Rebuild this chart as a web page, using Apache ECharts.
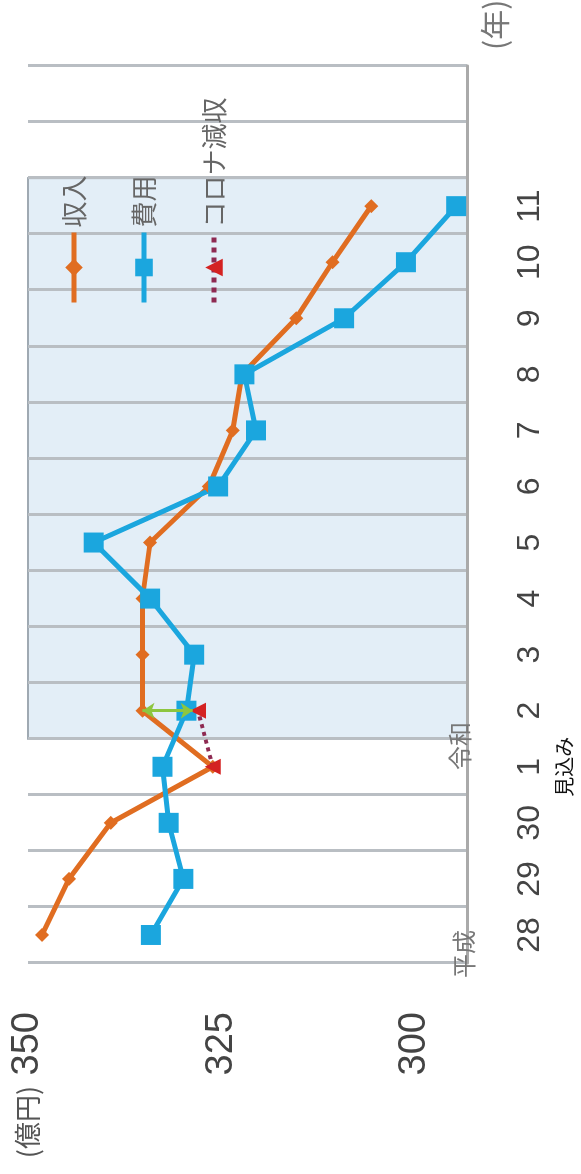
<!DOCTYPE html>
<html>
<head>
<meta charset="utf-8">
<script src="https://cdn.jsdelivr.net/npm/echarts@6/dist/echarts.min.js"></script>
<style>
html, body { margin: 0; padding: 0; background: #fff; overflow: hidden; }
/* chart is drawn upright, then turned a quarter left like the scan */
#main { position: absolute; left: 0; top: 1174px; width: 1174px; height: 581px;
        transform-origin: 0 0; transform: rotate(-90deg); }
</style>
</head>
<body>
<div id="main"></div>
<script>
var years = ['28', '29', '30', '1', '2', '3', '4', '5', '6', '7', '8', '9', '10', '11', '', ''];
var income = [348.2, 344.7, 339.3, 326.1, 335.2, 335.2, 335.2, 334.2, 326.6, 323.5, 322.3, 315.3, 310.6, 305.6];
var expense = [334.1, 329.9, 331.8, 332.6, 329.5, 328.5, 334.2, 341.5, 325.4, 320.5, 322.0, 309.1, 301.1, 294.6];
var covidLoss = [null, null, null, 326.1, 328.0];
var valueTicks = [300, 325, 350];
var shadeFrom = years.indexOf('2');
var shadeTo = years.indexOf('11') + 1;

var numFont = "'Liberation Sans Narrow', 'Liberation Sans', sans-serif";
var jp = "'Noto Sans CJK JP', sans-serif";

var myChart = echarts.init(document.getElementById('main'));

var option = {
	backgroundColor: '#fff',
	animation: false,
	grid: { left: 211, right: 66, top: 28, bottom: 103 },
	legend: {
		orient: 'vertical',
		left: 864,
		top: 56,
		itemWidth: 70,
		itemHeight: 22,
		itemGap: 44,
		lineStyle: { width: 5 },
		textStyle: { fontSize: 26, color: '#666', fontFamily: jp },
		data: ['収入', '費用', 'コロナ減収']
	},
	xAxis: [{
		type: 'category',
		data: years,
		boundaryGap: true,
		z: 2,
		axisLine: { lineStyle: { color: '#aaa', width: 3 } },
		axisTick: { show: false },
		axisLabel: {
			interval: 0,
			margin: 46,
			fontSize: 32,
			lineHeight: 34,
			color: '#444',
			fontFamily: numFont,
			formatter: function (v) {
				return v === '1' ? '1\n{s|見込み}' : v;
			},
			rich: { s: { fontSize: 20, lineHeight: 34, color: '#111', fontFamily: jp } }
		},
		splitLine: { show: true, interval: 0, lineStyle: { color: '#b9bec3', width: 3 } }
	}, {
		type: 'value',
		min: 0,
		max: years.length,
		show: false
	}],
	yAxis: {
		type: 'value',
		min: 293.2,
		max: 350,
		axisLine: { show: false },
		axisTick: { show: false },
		splitLine: { show: false },
		axisLabel: {
			customValues: valueTicks,
			margin: 49,
			fontSize: 38,
			color: '#444',
			fontFamily: numFont,
			formatter: function (v) {
				return v === 350 ? '{u|(億円)} 350' : String(v);
			},
			rich: { u: { fontSize: 27, color: '#555', fontFamily: jp } }
		}
	},
	graphic: [
		{ type: 'text', left: 196, top: 452, z: 100, style: { text: '平成', fontSize: 24, fill: '#777', fontFamily: jp } },
		{ type: 'text', left: 404, top: 448, z: 100, style: { text: '令和', fontSize: 24, fill: '#777', fontFamily: jp } },
		{ type: 'text', left: 1124, top: 480, z: 100, style: { text: '(年)', fontSize: 30, fill: '#777', fontFamily: jp } }
	],
	series: [{
		name: 'shade',
		type: 'line',
		xAxisIndex: 1,
		data: [],
		silent: true,
		z: 0,
		markArea: {
			silent: true,
			z: 0,
			itemStyle: { color: '#e3eef7', borderColor: '#9fa9b2', borderWidth: 2 },
			data: [[{ xAxis: shadeFrom }, { xAxis: shadeTo }]]
		}
	}, {
		name: '収入',
		type: 'line',
		data: income,
		symbol: 'diamond',
		symbolSize: 14,
		z: 3,
		lineStyle: { color: '#e06d21', width: 5 },
		itemStyle: { color: '#e06d21' }
	}, {
		name: '費用',
		type: 'line',
		data: expense,
		symbol: 'rect',
		symbolSize: 20,
		z: 3,
		lineStyle: { color: '#1ba6de', width: 5 },
		itemStyle: { color: '#1ba6de' }
	}, {
		name: 'コロナ減収',
		type: 'line',
		data: covidLoss,
		symbol: 'triangle',
		symbolSize: 16,
		z: 4,
		lineStyle: { color: '#8e2a52', width: 4, type: 'dotted' },
		itemStyle: { color: '#d42222' },
		markLine: {
			silent: true,
			symbol: ['arrow', 'arrow'],
			symbolSize: 12,
			label: { show: false },
			lineStyle: { color: '#8dc63f', width: 3, type: 'solid' },
			data: [[{ coord: ['2', income[4]] }, { coord: ['2', 328.7] }]]
		}
	}]
};
myChart.setOption(option);
</script>
</body>
</html>
